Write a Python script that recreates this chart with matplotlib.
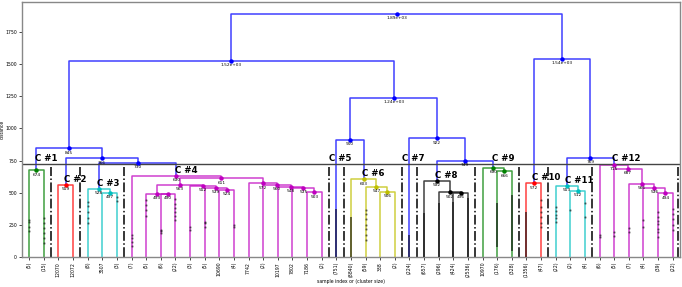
import numpy as np
import matplotlib.pyplot as plt

# leaf labels (sample index or cluster size), left to right
leaf_labels = ['(5)', '(15)', '12070', '12072', '(8)', '3507', '(3)', '(7)', '(5)', '(6)',
               '(22)', '(3)', '(5)', '10690', '(4)', '7742', '(2)', '10197', '7802', '7186',
               '(2)', '(751)', '(8840)', '(59)', '338', '(2)', '(224)', '(657)', '(296)', '(424)',
               '(2536)', '10970', '(176)', '(328)', '(1356)', '(47)', '(22)', '(2)', '(4)', '(6)',
               '(5)', '(7)', '(4)', '(39)', '(22)']

# merges: (left child, right child, distance); ids < 45 are leaves, 45+ are earlier merges
merges = [
    (0, 1, 674),      # 45
    (2, 3, 559),      # 46
    (5, 6, 497),      # 47
    (4, 47, 528),     # 48
    (9, 10, 490),     # 49
    (8, 49, 493),     # 50
    (13, 14, 524),    # 51
    (12, 51, 539),    # 52
    (11, 52, 552),    # 53
    (50, 53, 563),    # 54
    (19, 20, 503),    # 55
    (18, 55, 535),    # 56
    (17, 56, 548),    # 57
    (16, 57, 560),    # 58
    (15, 58, 572),    # 59
    (54, 59, 611),    # 60
    (7, 60, 630),     # 61
    (48, 61, 730),    # 62
    (46, 62, 766),    # 63
    (45, 63, 845),    # 64
    (24, 25, 506),    # 65
    (23, 65, 547),    # 66
    (22, 66, 603),    # 67
    (21, 67, 910),    # 68
    (29, 30, 496),    # 69
    (28, 69, 502),    # 70
    (27, 70, 592),    # 71
    (32, 33, 666),    # 72
    (31, 72, 690),    # 73
    (71, 73, 749),    # 74
    (26, 74, 922),    # 75
    (68, 75, 1238),   # 76
    (64, 76, 1523),   # 77
    (34, 35, 572),    # 78
    (37, 38, 512),    # 79
    (36, 79, 553),    # 80
    (43, 44, 494),    # 81
    (42, 81, 536),    # 82
    (41, 82, 566),    # 83
    (40, 83, 687),    # 84
    (39, 84, 715),    # 85
    (80, 85, 769),    # 86
    (78, 86, 1538),   # 87
    (77, 87, 1889),   # 88
]

max_d = 720

# contracted merges inside big leaves: dense streaks (leaf, low, high)
streaks = [(21, 0, 370), (22, 0, 310), (26, 0, 170), (27, 0, 340), (28, 0, 420),
           (29, 0, 430), (30, 0, 460), (32, 80, 420), (33, 50, 480), (34, 0, 350)]
# contracted merges inside small leaves: single marks
marks = [(0, [200, 232, 271, 288]), (1, [106, 148, 187, 224, 262, 300]),
         (4, [262, 305, 348, 396, 428]), (6, [432, 468]), (7, [82, 118, 146, 171]),
         (8, [318, 362, 404, 441]), (9, [186, 199, 211]),
         (10, [288, 317, 352, 384, 413, 452]), (11, [211, 236]), (12, [232, 261, 274]),
         (14, [236, 252]), (23, [132, 168, 214, 247, 292, 331, 362]),
         (35, [233, 268, 314, 352, 391, 441]), (36, [272, 304, 328, 361, 390]),
         (37, [364]), (38, [310, 418]), (39, [158, 171]), (40, [162, 196]),
         (41, [196, 224]), (42, [232, 286]),
         (43, [158, 192, 221, 253, 278, 312, 350]), (44, [209, 248, 293, 334, 377])]

palette = ['g', 'r', 'c', 'm', 'y', 'k']

n = len(leaf_labels)
xpos = {i: 10 * i + 5 for i in range(n)}
ypos = {i: 0 for i in range(n)}
kids = {}
for k, (a, b, d) in enumerate(merges):
    node = n + k
    kids[node] = (a, b)
    xpos[node] = (xpos[a] + xpos[b]) / 2
    ypos[node] = d
root = n + len(merges) - 1


def leaves_of(node):
    if node < n:
        return [node]
    return leaves_of(kids[node][0]) + leaves_of(kids[node][1])


clusters = []


def collect(node):
    if node < n or ypos[node] < max_d:
        clusters.append(node)
    else:
        collect(kids[node][0])
        collect(kids[node][1])


collect(root)

color_of = {}


def paint(node, c):
    if node >= n:
        color_of[node] = c
        for ch in kids[node]:
            paint(ch, c)


ci = 0
for cl in clusters:
    if cl >= n:
        paint(cl, palette[ci % len(palette)])
        ci += 1
for node in kids:
    color_of.setdefault(node, 'b')

fig = plt.figure(figsize=(6.82, 2.87), dpi=100)
ax = fig.add_axes([0.032, 0.1045, 0.965, 0.889])

for node, (a, b) in kids.items():
    c = color_of[node]
    ax.plot([xpos[a], xpos[a], xpos[b], xpos[b]],
            [ypos[a], ypos[node], ypos[node], ypos[b]], color=c, lw=1.1, alpha=0.75)

for leaf, lo, hi in streaks:
    ax.plot([xpos[leaf], xpos[leaf]], [lo, hi], color='k', lw=1.3, alpha=0.6,
            solid_capstyle='butt', zorder=3)
for leaf, hs in marks:
    ax.plot([xpos[leaf]] * len(hs), hs, '.', color='k', ms=1.5, alpha=0.4, zorder=3)

for node in kids:
    c = color_of[node]
    ax.plot(xpos[node], ypos[node], 'o', color=c, ms=2.2, zorder=4)
    ax.annotate('%.3g' % ypos[node], (xpos[node], ypos[node]), xytext=(0, -1.6),
                textcoords='offset points', va='top', ha='center', fontsize=3.1, zorder=5)

ax.axhline(max_d, color='#444444', lw=1.0, zorder=2)

# cluster boundaries and names
for i, cl in enumerate(clusters):
    lv = leaves_of(cl)
    right = 10 * (lv[-1] + 1)
    ax.plot([min(right, 449), min(right, 449)], [0, 700], color='k', ls='-.', lw=1.1)
    if cl < n:
        tx, ty = xpos[cl] - 5, 765
    else:
        tx, ty = xpos[cl] - 1, ypos[cl] + 45
        if ty > 680:
            ty = 765
    ax.text(tx, ty, 'C #%d' % (i + 1), ha='left', va='center', fontsize=6.2,
            fontweight='bold', zorder=6)

ax.set_xlim(0, 10 * n)
ax.set_ylim(0, 1.05 * ypos[root])
ax.set_xticks([xpos[i] for i in range(n)])
ax.set_xticklabels(leaf_labels, rotation=90, fontsize=3.3)
ax.set_yticks(np.arange(0, 2000, 250))
ax.tick_params(axis='y', labelsize=3.3, length=2, width=0.5, pad=1.5)
ax.tick_params(axis='x', length=2, width=0.5, pad=1.5)
ax.set_xlabel('sample index or (cluster size)', fontsize=3.3, labelpad=1.5)
ax.set_ylabel('distance', fontsize=3.3)
ax.yaxis.set_label_coords(-0.026, 0.5)
for s in ax.spines.values():
    s.set_color('#888888')
    s.set_linewidth(1.0)

fig.savefig('out.png', dpi=100)
